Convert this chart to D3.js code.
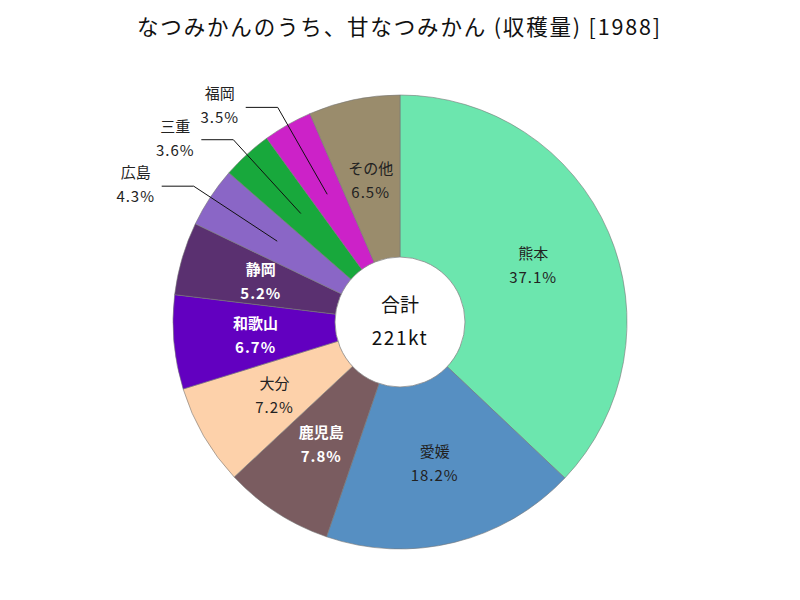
<!DOCTYPE html>
<html>
<head>
<meta charset="utf-8">
<script src="https://cdn.jsdelivr.net/npm/d3@7"></script>
<style>
  body { margin: 0; background: #fff; }
  text { font-family: "Noto Sans CJK JP", "DejaVu Sans", sans-serif; }
</style>
</head>
<body>
<div id="chart"></div>
<script>
// data (share of harvest, %)
var names = ["熊本", "愛媛", "鹿児島", "大分", "和歌山", "静岡", "広島", "三重", "福岡", "その他"];
var shares = [37.1, 18.2, 7.8, 7.2, 6.7, 5.2, 4.3, 3.6, 3.5, 6.5];
var colors = ["#6ce6ae", "#568fc2", "#7a5c60", "#fdd1aa", "#6200c0", "#5a3070", "#8a66c6", "#18a83c", "#cc22c8", "#9a8c6c"];
var whiteText = ["鹿児島", "和歌山", "静岡"];
var title = "なつみかんのうち、甘なつみかん (収穫量) [1988]";
var totalLabel = ["合計", "221kt"];

var width = 800, height = 600;
var cx = 400, cy = 322, outerR = 227, innerR = 65;

var data = names.map(function(n, i) { return {name: n, value: shares[i], color: colors[i]}; });

var svg = d3.select("#chart").append("svg")
    .attr("width", width)
    .attr("height", height);

svg.append("text")
    .attr("x", 137)
    .attr("y", 35)
    .attr("textLength", 523)
    .attr("lengthAdjust", "spacing")
    .style("font-size", "21.5px")
    .style("fill", "#111")
    .text(title);

var g = svg.append("g").attr("transform", "translate(" + cx + "," + cy + ")");

var pie = d3.pie().sort(null).value(function(d) { return d.value; });
var arc = d3.arc().innerRadius(0).outerRadius(outerR);
var arcs = pie(data);

g.selectAll("path.slice")
  .data(arcs)
  .enter()
  .append("path")
    .attr("class", "slice")
    .attr("d", arc)
    .style("fill", function(d) { return d.data.color; })
    .style("stroke", "#777")
    .style("stroke-width", 0.6);

// hole
g.append("circle")
    .attr("r", innerR)
    .style("fill", "#fff")
    .style("stroke", "#888")
    .style("stroke-width", 0.8);

g.append("text").attr("y", -10).attr("text-anchor", "middle")
    .style("font-size", "19px").style("fill", "#111").text(totalLabel[0]);
g.append("text").attr("y", 23).attr("text-anchor", "middle")
    .style("font-size", "19px").style("fill", "#111").style("letter-spacing", "1.5px").text(totalLabel[1]);

function polar(r, a) { return [r * Math.sin(a), -r * Math.cos(a)]; }

// slice labels
arcs.forEach(function(d) {
  var mid = (d.startAngle + d.endAngle) / 2;
  var white = whiteText.indexOf(d.data.name) >= 0;
  var fill = white ? "#fff" : "#222";
  var weight = white ? "bold" : "normal";
  if (d.data.value >= 5) {
    var p = polar(145, mid);
    g.append("text").attr("x", p[0]).attr("y", p[1] - 6).attr("text-anchor", "middle")
        .style("font-size", "15px").style("font-weight", weight).style("fill", fill).text(d.data.name);
    g.append("text").attr("x", p[0]).attr("y", p[1] + 18).attr("text-anchor", "middle")
        .style("font-size", "15px").style("font-weight", weight).style("fill", fill).style("letter-spacing", "1px")
        .text(d.data.value.toFixed(1) + "%");
  } else {
    // small slices: leader line out to the left
    var a = polar(147, mid);
    var e = polar(247, mid);
    var end = [e[0] - 32, e[1]];
    g.append("polyline")
        .attr("points", [a, e, end].map(function(q) { return q.join(","); }).join(" "))
        .style("fill", "none")
        .style("stroke", "#111")
        .style("stroke-width", 1);
    g.append("text").attr("x", end[0] - 26).attr("y", e[1] - 8).attr("text-anchor", "middle")
        .style("font-size", "15px").style("fill", "#222").text(d.data.name);
    g.append("text").attr("x", end[0] - 26).attr("y", e[1] + 16).attr("text-anchor", "middle")
        .style("font-size", "15px").style("fill", "#222").style("letter-spacing", "1px")
        .text(d.data.value.toFixed(1) + "%");
  }
});
</script>
</body>
</html>
